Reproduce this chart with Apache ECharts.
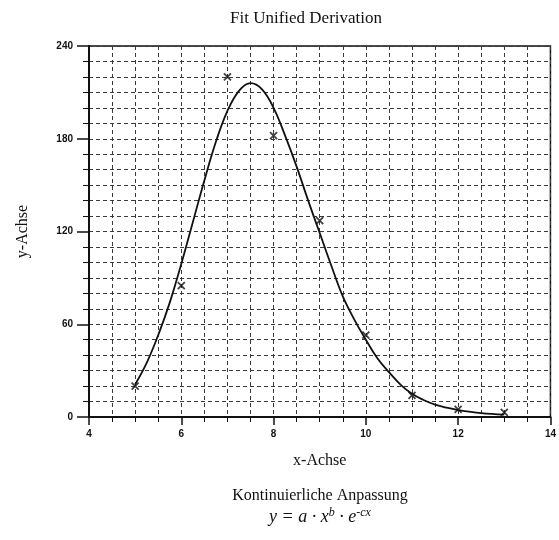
<!DOCTYPE html>
<html>
<head>
<meta charset="utf-8">
<script src="https://cdn.jsdelivr.net/npm/echarts@6/dist/echarts.min.js"></script>
<style>
  html, body { margin: 0; padding: 0; background: #fff; }
  #chart { width: 559px; height: 540px; }
</style>
</head>
<body>
<div id="chart"></div>
<script>
// measured points (x marks)
const pointX = [5, 6, 7, 8, 9, 10, 11, 12, 13];
const pointY = [20, 85, 220, 182, 127, 53, 14, 5, 3];

// fitted curve
const curveX = [5, 5.25, 5.5, 5.75, 6, 6.25, 6.5, 6.75, 7, 7.25, 7.5, 7.75, 8, 8.25, 8.5, 8.75,
  9, 9.25, 9.5, 9.75, 10, 10.25, 10.5, 10.75, 11, 11.25, 11.5, 11.75, 12, 12.5, 13];
const curveY = [21, 35, 53, 74, 99, 126, 153, 178, 198, 211, 216, 212, 200, 182, 162, 140,
  119, 98, 78, 63, 50, 38, 29, 21, 15, 11, 8, 6, 4.5, 2.5, 1.5];

const xTicks = [4, 6, 8, 10, 12, 14];
const yTicks = [0, 60, 120, 180, 240];

const serif = '"Liberation Serif", "DejaVu Serif", serif';
const sans = '"Liberation Sans", Arial, sans-serif';

const chart = echarts.init(document.getElementById('chart'));

const gridLine = { color: '#3a3a3a', type: [4, 3], width: 1 };

chart.setOption({
  animation: false,
  title: {
    text: 'Fit Unified Derivation',
    left: 301,
    top: 5,
    textAlign: 'center',
    textStyle: { fontFamily: serif, fontSize: 17, fontWeight: 'normal', color: '#111' }
  },
  grid: {
    left: 89, right: 6, top: 46, bottom: 123,
    show: true, borderColor: '#111', borderWidth: 1.5
  },
  xAxis: {
    type: 'value',
    min: xTicks[0],
    max: xTicks[xTicks.length - 1],
    interval: 2,
    name: 'x-Achse',
    nameLocation: 'middle',
    nameGap: 36,
    nameTextStyle: { fontFamily: serif, fontSize: 16, color: '#111' },
    axisLine: { lineStyle: { color: '#111', width: 2 } },
    axisTick: { length: 8, lineStyle: { color: '#111', width: 1.5 } },
    minorTick: { show: true, splitNumber: 4, length: 5, lineStyle: { color: '#111' } },
    splitLine: { show: true, lineStyle: gridLine },
    minorSplitLine: { show: true, lineStyle: gridLine },
    axisLabel: { margin: 12, fontFamily: sans, fontSize: 10, fontWeight: 'bold', color: '#111' }
  },
  yAxis: {
    type: 'value',
    min: yTicks[0],
    max: yTicks[yTicks.length - 1],
    interval: 60,
    name: 'y-Achse',
    nameLocation: 'middle',
    nameGap: 58,
    nameTextStyle: { fontFamily: serif, fontSize: 16, color: '#111' },
    axisLine: { show: true, lineStyle: { color: '#111', width: 2 } },
    axisTick: { show: true, length: 12, lineStyle: { color: '#111', width: 1.5 } },
    minorTick: { show: true, splitNumber: 6, length: 6, lineStyle: { color: '#111' } },
    splitLine: { show: true, lineStyle: gridLine },
    minorSplitLine: { show: true, lineStyle: gridLine },
    axisLabel: { margin: 16, fontFamily: sans, fontSize: 10, fontWeight: 'bold', color: '#111' }
  },
  series: [
    {
      name: 'Anpassung',
      type: 'line',
      smooth: 0.4,
      showSymbol: false,
      data: curveX.map((x, i) => [x, curveY[i]]),
      lineStyle: { color: '#111', width: 1.8 }
    },
    {
      name: 'Messwerte',
      type: 'scatter',
      symbol: 'path://M0,0L10,10M10,0L0,10',
      symbolSize: 7,
      data: pointX.map((x, i) => [x, pointY[i]]),
      itemStyle: { color: 'transparent', borderColor: '#111', borderWidth: 1.8 }
    }
  ],
  graphic: [
    {
      type: 'text',
      x: 320,
      y: 488,
      style: {
        text: 'Kontinuierliche Anpassung',
        font: '16px ' + serif,
        fill: '#111',
        align: 'center'
      }
    },
    {
      type: 'text',
      x: 320,
      y: 507,
      style: {
        text: '{i|y = a · x}{s|b}{i| · e}{s|-cx}',
        fill: '#111',
        align: 'center',
        rich: {
          i: { fontFamily: serif, fontStyle: 'italic', fontSize: 18, color: '#111', verticalAlign: 'middle', lineHeight: 20 },
          s: { fontFamily: serif, fontStyle: 'italic', fontSize: 12, color: '#111', verticalAlign: 'top', lineHeight: 12 }
        }
      }
    }
  ]
});
</script>
</body>
</html>
